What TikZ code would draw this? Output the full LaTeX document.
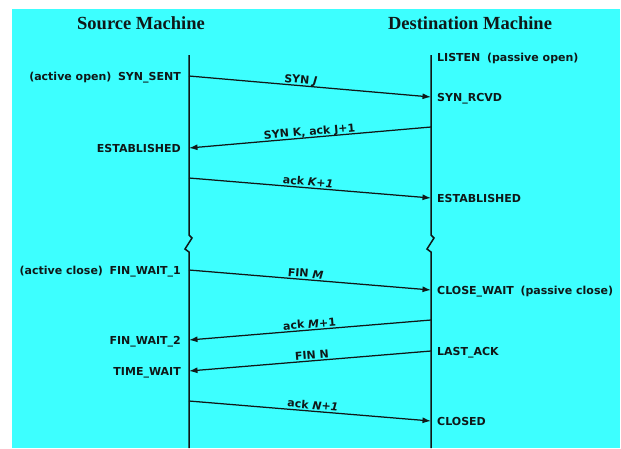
\documentclass[tikz,border=0pt]{standalone}
\usepackage{fontspec}
\setmainfont{DejaVu Sans}
\newfontfamily\headfont{Liberation Serif}
\usetikzlibrary{arrows.meta}
\definecolor{bg}{RGB}{61,255,255}
\definecolor{ink}{RGB}{16,24,24}
\begin{document}
\begin{tikzpicture}[x=1pt,y=-1pt,
  lbl/.style={font=\bfseries\fontsize{11}{13}\selectfont, inner sep=0pt, text height=8pt, text depth=0pt, text=ink},
  head/.style={font=\headfont\bfseries\fontsize{18.5}{22}\selectfont, inner sep=0pt, text=ink},
  msg/.style={draw=ink, line width=1.25pt, -{Latex[length=8.5pt,width=6pt]}},
  life/.style={draw=ink, line width=1.5pt},
  mlbl/.style={font=\bfseries\fontsize{11}{13}\selectfont, inner sep=1.5pt, text height=8pt, text depth=0pt, above, sloped, text=ink}]
\useasboundingbox (0,0) rectangle (621,448);
\fill[bg] (12,9) rectangle (620,448);
% headers
\node[head] (src) at (141,23) {Source Machine};
\node[head] (dst) at (470,23) {Destination Machine};
% lifelines
\coordinate (Ltop) at (189,55);
\coordinate (Lb1) at (189,235);
\coordinate (Lb2) at (192,238);
\coordinate (Lb3) at (185,249);
\coordinate (Lb4) at (189,252);
\coordinate (Lbot) at (189,448);
\coordinate (Rtop) at (431,55);
\coordinate (Rb1) at (431,235);
\coordinate (Rb2) at (434,238);
\coordinate (Rb3) at (427,249);
\coordinate (Rb4) at (431,252);
\coordinate (Rbot) at (431,448);
\draw[life] (Ltop) -- (Lb1) -- (Lb2) -- (Lb3) -- (Lb4) -- (Lbot);
\draw[life] (Rtop) -- (Rb1) -- (Rb2) -- (Rb3) -- (Rb4) -- (Rbot);
% message end points
\coordinate (s1) at (189,76);  \coordinate (r1) at (431,97);
\coordinate (r2) at (431,127); \coordinate (s2) at (189,148);
\coordinate (s3) at (189,178); \coordinate (r3) at (431,198);
\coordinate (s4) at (189,270); \coordinate (r4) at (431,290);
\coordinate (r5) at (431,320); \coordinate (s5) at (189,340);
\coordinate (r6) at (431,351); \coordinate (s6) at (189,371);
\coordinate (s7) at (189,401); \coordinate (r7) at (431,421);
% messages
\draw[msg] (s1) -- node[mlbl, pos=0.46] (m1) {SYN \textit{J}} (r1);
\draw[msg] (r2) -- node[mlbl, pos=0.5] (m2) {SYN K, ack J+1} (s2);
\draw[msg] (s3) -- node[mlbl, pos=0.49] (m3) {ack \textit{K+1}} (r3);
\draw[msg] (s4) -- node[mlbl, pos=0.48] (m4) {FIN \textit{M}} (r4);
\draw[msg] (r5) -- node[mlbl, pos=0.5] (m5) {ack \textit{M}+1} (s5);
\draw[msg] (r6) -- node[mlbl, pos=0.49] (m6) {FIN N} (s6);
\draw[msg] (s7) -- node[mlbl, pos=0.51] (m7) {ack \textit{N+1}} (r7);
% state labels, source side
\node[lbl, anchor=east, xshift=-8pt] (synsent) at (s1) {(active open)\hspace{0.6em}SYN\_SENT};
\node[lbl, anchor=east, xshift=-8pt] (estl) at (s2) {ESTABLISHED};
\node[lbl, anchor=east, xshift=-8pt] (fw1) at (s4) {(active close)\hspace{0.6em}FIN\_WAIT\_1};
\node[lbl, anchor=east, xshift=-8pt] (fw2) at (s5) {FIN\_WAIT\_2};
\node[lbl, anchor=east, xshift=-8pt] (tw) at (s6) {TIME\_WAIT};
% state labels, destination side
\node[lbl, anchor=west, xshift=6pt] (listen) at (431,57) {LISTEN\hspace{0.6em}(passive open)};
\node[lbl, anchor=west, xshift=6pt] (rcvd) at (r1) {SYN\_RCVD};
\node[lbl, anchor=west, xshift=6pt] (estr) at (r3) {ESTABLISHED};
\node[lbl, anchor=west, xshift=6pt] (cw) at (r4) {CLOSE\_WAIT\hspace{0.6em}(passive close)};
\node[lbl, anchor=west, xshift=6pt] (la) at (r6) {LAST\_ACK};
\node[lbl, anchor=west, xshift=6pt] (closed) at (r7) {CLOSED};
\end{tikzpicture}
\end{document}
